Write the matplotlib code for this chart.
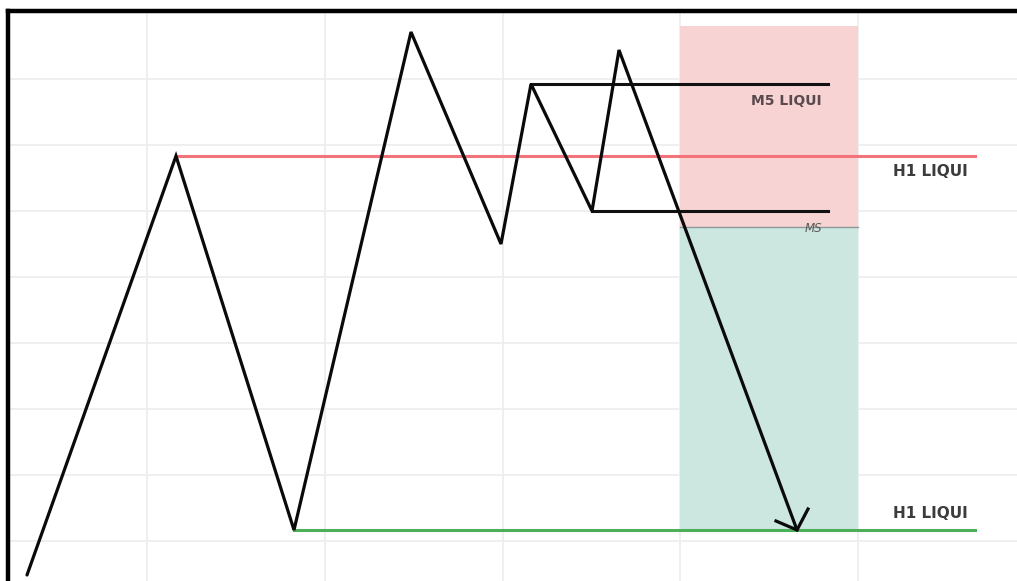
import matplotlib.pyplot as plt
import numpy as np

# price swing path (chart pixel units, y grows downward)
path_x = [27, 176, 294, 411, 501, 531, 592, 619, 797]
path_y = [575, 156, 530, 32, 244, 84, 211, 50, 530]

# liquidity levels
h1_high = 156
h1_low = 530
m5_high = 84
m5_low = 211
level_end = 975
m5_end = 828

# trade box
box_left, box_right = 680, 858
stop_top = 26
entry = 227
target = 530

grid_x = [147, 325, 503, 680, 858]
grid_y = [79, 145, 211, 277, 343, 409, 475, 541]

fig = plt.figure(figsize=(10.17, 5.81), dpi=100)
ax = fig.add_axes([8 / 1017, 0, 1009 / 1017, 570 / 581])
ax.set_xlim(8, 1017)
ax.set_ylim(581, 11)

ax.set_xticks(grid_x)
ax.set_yticks(grid_y)
ax.tick_params(length=0, labelbottom=False, labelleft=False)
ax.grid(True, color='#eeeeee', linewidth=1.3)
ax.set_axisbelow(True)
for s in ['right', 'bottom']:
    ax.spines[s].set_visible(False)
for s in ['left', 'top']:
    ax.spines[s].set_linewidth(3.2)
    ax.spines[s].set_color('black')

# risk / reward boxes
ax.fill_between([box_left, box_right], stop_top, entry, color='#f8d3d3', zorder=1, linewidth=0)
ax.fill_between([box_left, box_right], entry, target, color='#cce6e0', zorder=1, linewidth=0)
ax.plot([box_left, box_right], [entry, entry], color='#8a9a98', linewidth=1, zorder=2)

# H1 levels
ax.plot([path_x[1], level_end], [h1_high, h1_high], color='#f4737b', linewidth=2.2, zorder=3)
ax.plot([path_x[2], level_end], [h1_low, h1_low], color='#4cb05a', linewidth=2.2, zorder=3)

# M5 levels
ax.plot([path_x[5], m5_end], [m5_high, m5_high], color='#111111', linewidth=2.2, zorder=4)
ax.plot([path_x[6], m5_end], [m5_low, m5_low], color='#111111', linewidth=2.2, zorder=4)

# price path
ax.plot(path_x, path_y, color='#0a0a0a', linewidth=2.3, zorder=5,
        solid_joinstyle='miter', solid_capstyle='round')
# arrow head
ax.plot([776, path_x[-1], 808], [521, path_y[-1], 509], color='#0a0a0a', linewidth=2.3,
        zorder=5, solid_joinstyle='miter')

ax.text(822, 101, 'M5 LIQUI', ha='right', va='center', fontsize=10, fontweight='bold',
        color='#5a4a4e', zorder=6)
ax.text(930, 172, 'H1 LIQUI', ha='center', va='center', fontsize=11, fontweight='bold',
        color='#3c3c3c', zorder=6)
ax.text(930, 513, 'H1 LIQUI', ha='center', va='center', fontsize=11, fontweight='bold',
        color='#3c3c3c', zorder=6)
ax.text(822, 229, 'MS', ha='right', va='center', fontsize=8.5, style='italic',
        color='#5a5a5a', zorder=6)

fig.savefig('out.png', dpi=100)
